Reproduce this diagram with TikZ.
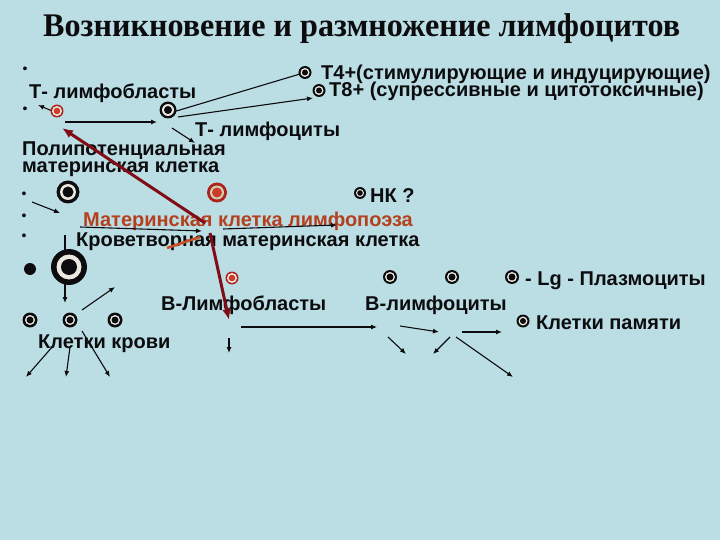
\documentclass[tikz,border=0pt]{standalone}
\usepackage{graphicx}
\usepackage{fontspec}
\setmainfont{Liberation Sans}
\newfontfamily\titlefont{Liberation Serif}
\usetikzlibrary{arrows.meta}
\definecolor{bg}{RGB}{187,222,228}
\definecolor{darkred}{RGB}{128,12,22}
\definecolor{rusttext}{RGB}{180,64,30}
\definecolor{rustline}{RGB}{200,80,40}
\definecolor{cellred}{RGB}{175,35,30}
\definecolor{cellredc}{RGB}{205,60,40}
\definecolor{cellgap}{RGB}{235,232,225}
\definecolor{redgap}{RGB}{205,210,175}
\definecolor{inkc}{RGB}{12,12,14}
% name, x, y, r outer, r gap, r centre, outer colour, gap colour, centre colour
\newcommand{\mkcell}[9]{%
  \node[circle,inner sep=0pt,minimum size={2*#4pt},fill=#7] (#1) at (#2,#3) {};
  \fill[#8] (#1.center) circle (#5pt);
  \fill[#9] (#1.center) circle (#6pt);}
\begin{document}
\begin{tikzpicture}[x=1pt,y=-1pt,
  txt/.style={anchor=base west,inner sep=0pt,text=inkc,font=\fontsize{20}{20}\selectfont\bfseries},
  bul/.style={inner sep=0pt,text=inkc,font=\fontsize{14}{14}\selectfont},
  arr/.style={-{Latex[length=6pt,width=5pt]},line width=1.1pt,inkc},
  redarr/.style={-{Latex[length=11pt,width=9pt]},line width=3pt,darkred},
  rustseg/.style={line width=2.6pt,rustline}]
\useasboundingbox (0,0) rectangle (720,540);
\fill[bg] (0,0) rectangle (720,540);

% title
\node[anchor=base west,inner sep=0pt,text=inkc] (title) at (43,37)
  {\resizebox{637pt}{\height}{\titlefont\bfseries\fontsize{33}{33}\selectfont Возникновение и размножение лимфоцитов}};

% bullets
\node[bul] (b1) at (25,70) {•};
\node[bul] (b2) at (25,110) {•};
\node[bul] (b3) at (24,195) {•};
\node[bul] (b4) at (24,217) {•};
\node[bul] (b5) at (24,237) {•};

% texts
\node[txt] (tT4) at (321,80) {Т4+(стимулирующие и индуцирующие)};
\node[txt] (tT8) at (329,97) {Т8+ (супрессивные и цитотоксичные)};
\node[txt] (tTbl) at (29,99) {Т- лимфобласты};
\node[txt] (tTly) at (195,137) {Т- лимфоциты};
\node[txt] (tPoly1) at (22,156) {Полипотенциальная};
\node[txt] (tPoly2) at (22,173) {материнская клетка};
\node[txt] (tNK) at (370,203) {НК ?};
\node[txt,text=rusttext] (tLymph) at (83,226) {Материнская клетка лимфопоэза};
\node[txt] (tHem) at (76,247) {Кроветворная материнская клетка};
\node[txt] (tBbl) at (161,310) {В-Лимфобласты};
\node[txt] (tBly) at (365,310) {В-лимфоциты};
\node[txt] (tPlasma) at (525,285) {- Lg - Плазмоциты};
\node[txt] (tMem) at (536,329) {Клетки памяти};
\node[txt] (tBlood) at (38,348) {Клетки крови};

% free ends of connectors
\coordinate (a1s) at (163,115);
\coordinate (a2s) at (178,117);
\coordinate (a2e) at (313,98);
\coordinate (a3s) at (65,122);
\coordinate (a3e) at (157,122);
\coordinate (a4e) at (38,105);
\coordinate (a5s) at (172,128);
\coordinate (a5e) at (195,143);
\coordinate (r1s) at (205,223);
\coordinate (r1e) at (62,128);
\coordinate (r2s) at (210,233);
\coordinate (r2e) at (229,320);
\coordinate (o1s) at (167,248);
\coordinate (o1e) at (200,237);
\coordinate (a9s) at (32,202);
\coordinate (a9e) at (60,213);
\coordinate (a10s) at (80,227);
\coordinate (a10e) at (202,231);
\coordinate (a11s) at (223,229);
\coordinate (a11e) at (337,225);
\coordinate (a12s) at (65,235);
\coordinate (a12e) at (65,303);
\coordinate (a13s) at (82,310);
\coordinate (a13e) at (115,287);
\coordinate (a14s) at (53,346);
\coordinate (a14e) at (26,377);
\coordinate (a15s) at (70,347);
\coordinate (a15e) at (66,377);
\coordinate (a16s) at (82,331);
\coordinate (a16e) at (110,377);
\coordinate (a17s) at (229,338);
\coordinate (a17e) at (229,353);
\coordinate (a18s) at (241,327);
\coordinate (a18e) at (377,327);
\coordinate (a19s) at (400,326);
\coordinate (a19e) at (439,332);
\coordinate (a20s) at (388,337);
\coordinate (a20e) at (406,354);
\coordinate (a21s) at (450,337);
\coordinate (a21e) at (433,354);
\coordinate (a22s) at (462,332);
\coordinate (a22e) at (502,332);
\coordinate (a23s) at (456,337);
\coordinate (a23e) at (513,377);

% black connectors
\draw[arr] (a1s) -- (305,72.5);
\draw[arr] (a2s) -- (a2e);
\draw[arr] (a3s) -- (a3e);
\draw[arr] (57,113) -- (a4e);
\draw[arr] (a5s) -- (a5e);
\draw[arr] (a9s) -- (a9e);
\draw[arr] (a10s) -- (a10e);
\draw[arr] (a11s) -- (a11e);
\draw[arr] (a12s) -- (a12e);
\draw[arr] (a13s) -- (a13e);
\draw[arr] (a14s) -- (a14e);
\draw[arr] (a15s) -- (a15e);
\draw[arr] (a16s) -- (a16e);
\draw[arr] (a17s) -- (a17e);
\draw[arr] (a18s) -- (a18e);
\draw[arr] (a19s) -- (a19e);
\draw[arr] (a20s) -- (a20e);
\draw[arr] (a21s) -- (a21e);
\draw[arr] (a22s) -- (a22e);
\draw[arr] (a23s) -- (a23e);
% red connectors
\draw[redarr] (r1s) -- (r1e);
\draw[redarr] (r2s) -- (r2e);
\draw[rustseg] (o1s) -- (o1e);

% cells
\mkcell{cTbl}{57}{111}{6.5}{5}{3.3}{cellred}{cellgap}{cellredc}
\mkcell{cTly}{168}{110}{8.5}{6}{4}{inkc}{cellgap}{inkc}
\mkcell{cT4}{305}{72.5}{6.5}{4.5}{3}{inkc}{cellgap}{inkc}
\mkcell{cT8}{319}{90.5}{6.5}{4.5}{3}{inkc}{cellgap}{inkc}
\mkcell{cPoly}{68}{192}{11.5}{8}{5.5}{inkc}{cellgap}{inkc}
\mkcell{cStem}{217}{192.5}{10}{7}{5}{cellred}{redgap}{cellredc}
\mkcell{cNK}{360}{193}{6}{4}{2.8}{inkc}{cellgap}{inkc}
\mkcell{cHem}{69}{267}{18}{12.5}{8}{inkc}{cellgap}{inkc}
\node[circle,inner sep=0pt,minimum size=12pt,fill=inkc] (cDot) at (30,269) {};
\mkcell{cBbl}{232}{278}{6.5}{5}{3.3}{cellred}{cellgap}{cellredc}
\mkcell{cB1}{390}{277}{7}{5}{3.5}{inkc}{cellgap}{inkc}
\mkcell{cB2}{452}{277}{7}{5}{3.5}{inkc}{cellgap}{inkc}
\mkcell{cB3}{512}{277}{7}{5}{3.5}{inkc}{cellgap}{inkc}
\mkcell{cMem}{523}{321}{6.5}{4.5}{3}{inkc}{cellgap}{inkc}
\mkcell{cBl1}{30}{320}{7.5}{5}{3.5}{inkc}{cellgap}{inkc}
\mkcell{cBl2}{70}{320}{7.5}{5}{3.5}{inkc}{cellgap}{inkc}
\mkcell{cBl3}{115}{320}{7.5}{5}{3.5}{inkc}{cellgap}{inkc}
\end{tikzpicture}
\end{document}
